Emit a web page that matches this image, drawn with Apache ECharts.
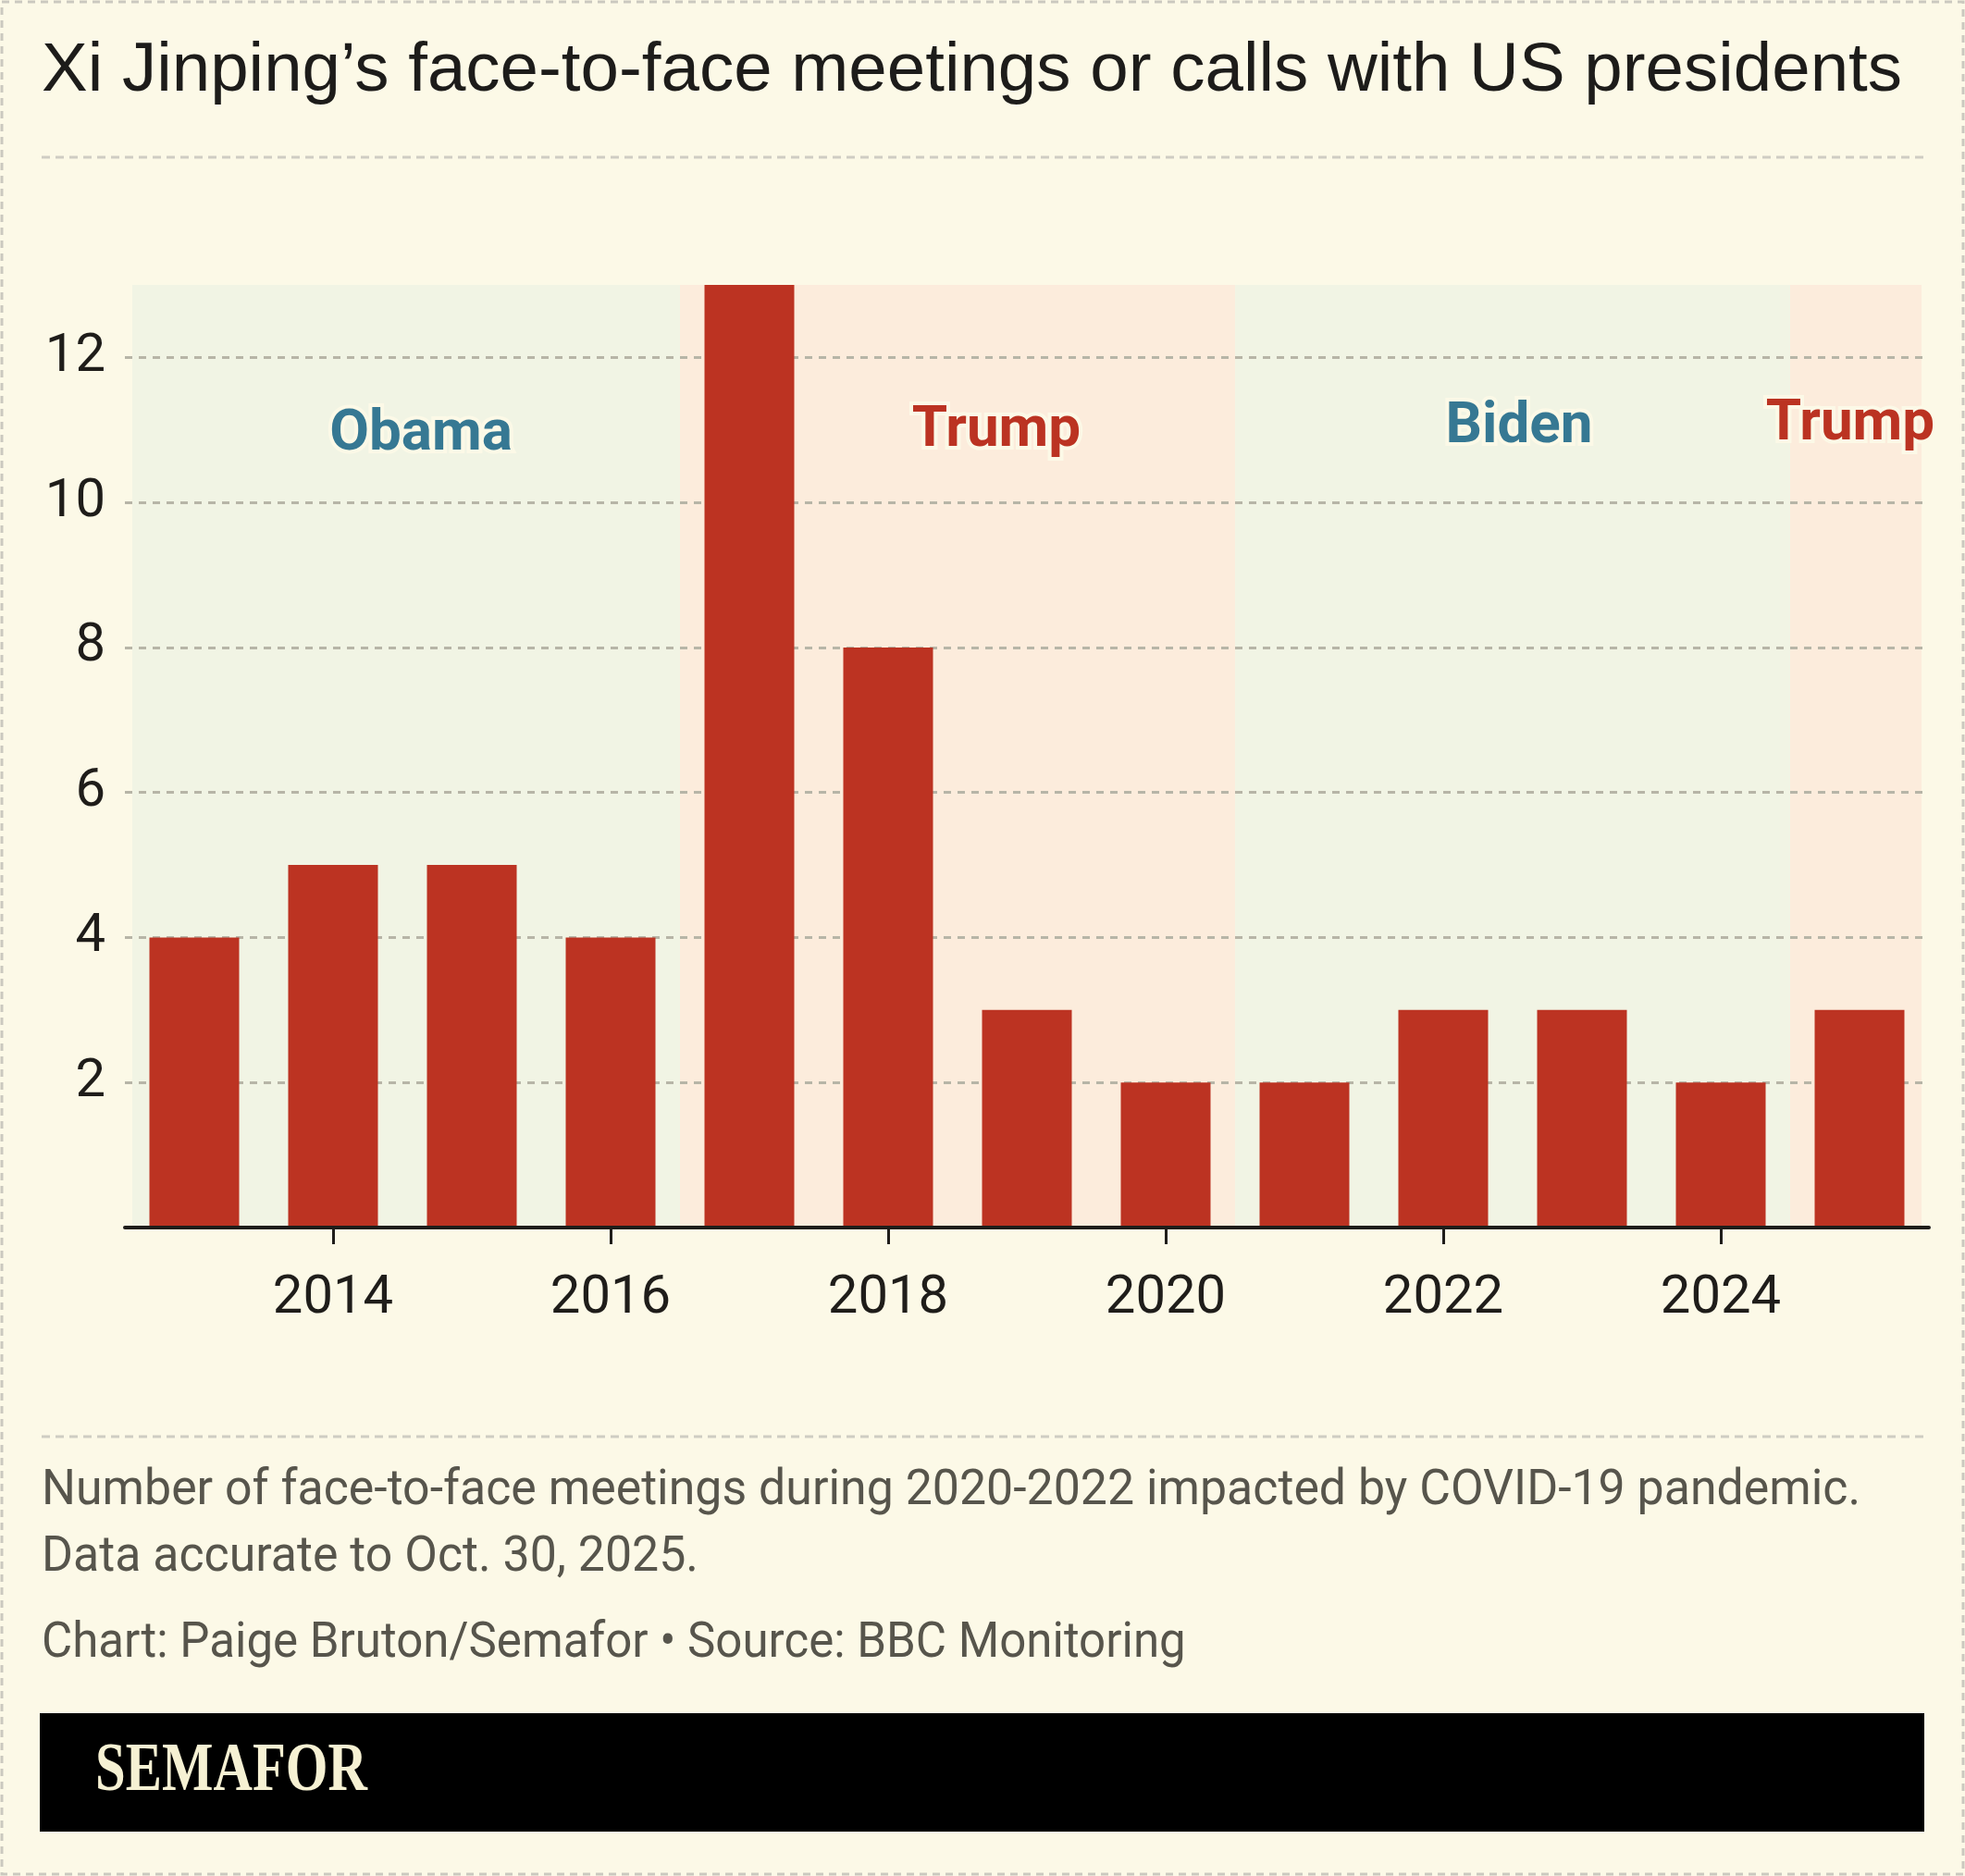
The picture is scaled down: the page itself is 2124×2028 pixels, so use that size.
<!DOCTYPE html>
<html><head><meta charset="utf-8">
<script src="https://cdn.jsdelivr.net/npm/echarts@6/dist/echarts.min.js"></script>
<style>html,body{margin:0;padding:0;background:#fcf9e7}#c{width:2124px;height:2028px}</style>
</head><body><div id="c"></div>
<script>
// ---- data ----
const years = ['2013','2014','2015','2016','2017','2018','2019','2020','2021','2022','2023','2024','2025'];
const meetings = [4, 5, 5, 4, 13, 8, 3, 2, 2, 3, 3, 2, 3];
const presidents = ['Obama', 'Trump', 'Biden', 'Trump'];
const termFirstYear = ['2013', '2017', '2021', '2025'];
const termLastYear = ['2016', '2020', '2024', '2025'];
const presidentParty = ['D', 'R', 'D', 'R'];
const titleText = 'Xi Jinping\u2019s face-to-face meetings or calls with US presidents';
const noteLines = [
  'Number of face-to-face meetings during 2020-2022 impacted by COVID-19 pandemic.',
  'Data accurate to Oct. 30, 2025.'
];
const sourceText = 'Chart: Paige Bruton/Semafor \u2022 Source: BBC Monitoring';
const brandText = 'SEMAFOR';

// ---- styles ----
const BG = '#fcf9e7';
const FONT = 'Roboto';
const partyBand = { D: '#f1f4e4', R: '#fcecdc' };
const partyText = { D: '#367893', R: '#bb3322' };
const labelDx = [20, 42, 7, -10];
const labelDy = [162, 158, 154, 151];
const bandEdgeInset = 8;

const chart = echarts.init(document.getElementById('c'), null, { renderer: 'canvas', width: 2124, height: 2028 });

const bandData = presidents.map((p, i) => [years.indexOf(termFirstYear[i]), years.indexOf(termLastYear[i]), i]);

function renderBand(params, api) {
  const i0 = api.value(0), i1 = api.value(1), k = api.value(2);
  const cs = params.coordSys;
  const bw = api.size([1, 0])[0];
  const x0 = Math.max(api.coord([i0, 0])[0] - bw / 2, cs.x + bandEdgeInset);
  const x1 = Math.min(api.coord([i1, 0])[0] + bw / 2, cs.x + cs.width - bandEdgeInset);
  const cx = (api.coord([i0, 0])[0] + api.coord([i1, 0])[0]) / 2;
  const party = presidentParty[k];
  return {
    type: 'group',
    children: [
      { type: 'rect', shape: { x: x0, y: cs.y, width: x1 - x0, height: cs.height }, style: { fill: partyBand[party] } },
      { type: 'text', x: cx + labelDx[k], y: cs.y + labelDy[k],
        style: { text: presidents[k], font: 'bold 62px Roboto', fill: partyText[party], stroke: BG, lineWidth: 8,
                 align: 'center', verticalAlign: 'middle' } }
    ]
  };
}

const evenYear = (i, v) => (+v) % 2 === 0;
const noteFont = '54px Roboto';
const noteColor = '#57554c';

chart.setOption({
  backgroundColor: BG,
  animation: false,
  grid: { left: 135, right: 39, top: 308, bottom: 701, containLabel: false },
  xAxis: {
    type: 'category', data: years, boundaryGap: true, z: 3,
    axisLine: { lineStyle: { color: '#1f1d1a', width: 4 } },
    axisTick: { show: true, alignWithLabel: true, interval: evenYear, length: 18, lineStyle: { color: '#1f1d1a', width: 3 } },
    axisLabel: { interval: evenYear, margin: 48, fontFamily: FONT, fontSize: 58, color: '#1f1d1a' },
    splitLine: { show: false }
  },
  yAxis: {
    type: 'value', min: 0, max: 13, interval: 2, z: 1,
    axisLine: { show: false }, axisTick: { show: false },
    axisLabel: { showMinLabel: false, showMaxLabel: false, margin: 21, fontFamily: FONT, fontSize: 58, color: '#1f1d1a' },
    splitLine: { show: true, showMinLine: false, showMaxLine: false, lineStyle: { color: '#b7b5a7', width: 3, type: [8, 7] } }
  },
  series: [
    { type: 'custom', z: 0, silent: true, data: bandData, renderItem: renderBand, encode: { x: 0 } },
    { type: 'bar', data: meetings, barWidth: 97, z: 2, itemStyle: { color: '#bc3322' } }
  ],
  graphic: [
    { type: 'rect', silent: true, shape: { x: 2, y: 2, width: 2120, height: 2024 }, style: { fill: null, stroke: '#cbc9bf', lineWidth: 3, lineDash: [8, 6] } },
    { type: 'line', silent: true, shape: { x1: 45, y1: 170, x2: 2080, y2: 170 }, style: { stroke: '#cfcdc3', lineWidth: 3, lineDash: [9, 6] } },
    { type: 'text', x: 45, y: 77, style: { text: titleText, font: '74.5px "Liberation Sans"', fill: '#1d1c1a', verticalAlign: 'middle' } },
    { type: 'line', silent: true, shape: { x1: 45, y1: 1553, x2: 2080, y2: 1553 }, style: { stroke: '#cfcdc3', lineWidth: 3, lineDash: [9, 6] } },
    { type: 'text', x: 45, y: 1612, scaleX: 0.96, style: { text: noteLines[0], font: noteFont, fill: noteColor, verticalAlign: 'middle' } },
    { type: 'text', x: 45, y: 1684, scaleX: 0.96, style: { text: noteLines[1], font: noteFont, fill: noteColor, verticalAlign: 'middle' } },
    { type: 'text', x: 45, y: 1777, scaleX: 0.945, style: { text: sourceText, font: noteFont, fill: noteColor, verticalAlign: 'middle' } },
    { type: 'rect', silent: true, shape: { x: 43, y: 1852, width: 2037, height: 128 }, style: { fill: '#000' } },
    { type: 'text', x: 103, y: 1916, scaleX: 0.84, scaleY: 1.06, style: { text: brandText, font: 'bold 70px "Liberation Serif"', fill: '#f6f1d3', verticalAlign: 'middle' } }
  ]
});
</script></body></html>
